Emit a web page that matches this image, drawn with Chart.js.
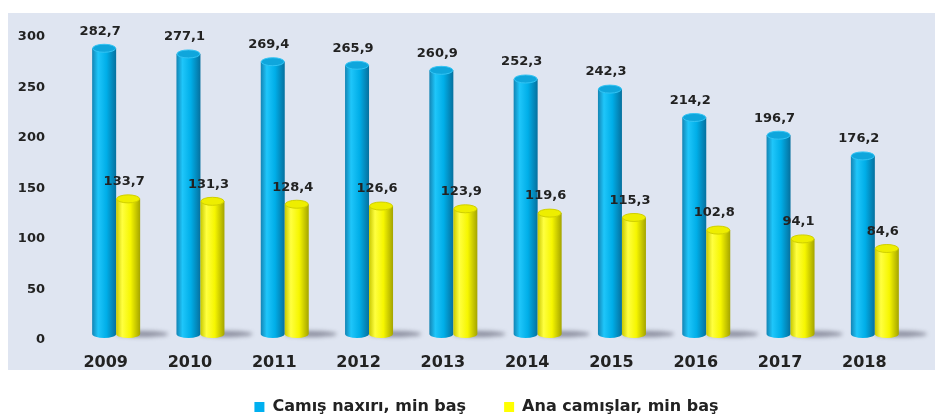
<!DOCTYPE html>
<html>
<head>
<meta charset="utf-8">
<script src="https://cdn.jsdelivr.net/npm/chart.js@4/dist/chart.umd.min.js"></script>
<style>
  body { margin: 0; background: #fff; }
  canvas { display: block; }
</style>
</head>
<body>
<canvas id="myChart" width="935" height="417"></canvas>
<script>
const years = ["2009", "2010", "2011", "2012", "2013", "2014", "2015", "2016", "2017", "2018"];
const herd = [282.7, 277.1, 269.4, 265.9, 260.9, 252.3, 242.3, 214.2, 196.7, 176.2];
const cows = [133.7, 131.3, 128.4, 126.6, 123.9, 119.6, 115.3, 102.8, 94.1, 84.6];
const seriesNames = ["Camış naxırı, min baş", "Ana camışlar, min baş"];
const yMin = 0;
const yMax = 300;
const yStep = 50;

const font = "'DejaVu Sans', Verdana, sans-serif";
const textColor = "#222";

// colours for the cylinder look
const looks = [
  { flat: "#00b0f0", edge: "#1384b4", light: "#1fc6fa", mid: "#00aee8", dark: "#06709e", cap: "#0fa6dc", rim: "#33c4f4" },
  { flat: "#ffff00", edge: "#c8c800", light: "#ffff40", mid: "#f6f600", dark: "#a4a400", cap: "#eeee00", rim: "#d0d000" },
];
const lift = 6; // 3d perspective shift

const fmt = (v) => v.toFixed(1).replace(".", ",");

const cylinder = (ctx, x, top, base, w, c) => {
  const l = x - w / 2, r = x + w / 2, ry = 4;
  top -= lift;
  base -= lift;
  const g = ctx.createLinearGradient(l, 0, r, 0);
  g.addColorStop(0, c.edge);
  g.addColorStop(0.25, c.light);
  g.addColorStop(0.6, c.mid);
  g.addColorStop(1, c.dark);
  ctx.fillStyle = g;
  ctx.beginPath();
  ctx.moveTo(l, top);
  ctx.lineTo(l, base);
  ctx.ellipse(x, base, w / 2, ry, 0, Math.PI, 0, true);
  ctx.lineTo(r, top);
  ctx.closePath();
  ctx.fill();
  ctx.beginPath();
  ctx.ellipse(x, top, w / 2 - 0.5, ry, 0, 0, Math.PI * 2);
  ctx.fillStyle = c.cap;
  ctx.fill();
  ctx.lineWidth = 1;
  ctx.strokeStyle = c.rim;
  ctx.stroke();
};

const panel = {
  id: "panel",
  beforeDraw(chart) {
    const ctx = chart.ctx;
    ctx.save();
    ctx.fillStyle = "#dfe5f1";
    ctx.fillRect(8, 13, chart.width - 8, 357);
    ctx.restore();
  },
};

// move the legend under the panel without changing the plot area
const legendSpot = {
  id: "legendSpot",
  afterLayout(chart) {
    const lg = chart.legend;
    const h = lg.bottom - lg.top;
    lg.top = 361;
    lg.bottom = lg.top + h;
    lg.left += 24;
    lg.right += 24;
  },
};

const cylinders = {
  id: "cylinders",
  beforeDatasetDraw() {
    return false;
  },
  beforeDatasetsDraw(chart) {
    const ctx = chart.ctx;
    const meta = chart.getDatasetMeta(1);
    ctx.save();
    ctx.filter = "blur(2px)";
    ctx.fillStyle = "rgba(60,60,80,0.5)";
    meta.data.forEach((el) => {
      const p = el.getProps(["x", "base", "width"], true);
      ctx.beginPath();
      ctx.ellipse(p.x + p.width / 2 + 2, p.base - lift, p.width / 2 + 14, 3, 0, 0, Math.PI * 2);
      ctx.fill();
    });
    ctx.restore();
  },
  afterDatasetsDraw(chart) {
    const ctx = chart.ctx;
    ctx.save();
    chart.data.datasets.forEach((ds, i) => {
      const meta = chart.getDatasetMeta(i);
      meta.data.forEach((el) => {
        const p = el.getProps(["x", "y", "base", "width"], true);
        cylinder(ctx, p.x, p.y, p.base, p.width, looks[i]);
      });
    });
    ctx.font = "bold 13px " + font;
    ctx.fillStyle = textColor;
    ctx.textAlign = "center";
    ctx.textBaseline = "middle";
    chart.data.datasets.forEach((ds, i) => {
      const meta = chart.getDatasetMeta(i);
      meta.data.forEach((el, j) => {
        const p = el.getProps(["x", "y"], true);
        ctx.fillText(fmt(ds.data[j]), p.x - 4, p.y - 23);
      });
    });
    ctx.restore();
  },
};

new Chart("myChart", {
  type: "bar",
  data: {
    labels: years,
    datasets: [
      { label: seriesNames[0], data: herd, backgroundColor: looks[0].flat, barThickness: 24 },
      { label: seriesNames[1], data: cows, backgroundColor: looks[1].flat, barThickness: 24 },
    ],
  },
  options: {
    responsive: false,
    animation: false,
    layout: { padding: { left: 8, right: 18, top: 34, bottom: -21 } },
    plugins: {
      tooltip: { enabled: false },
      legend: {
        position: "bottom",
        labels: {
          boxWidth: 10,
          boxHeight: 10,
          padding: 38,
          color: textColor,
          font: { family: font, size: 16, weight: "bold" },
        },
      },
    },
    scales: {
      x: {
        grid: { display: false, drawTicks: false },
        border: { display: false },
        ticks: {
          color: textColor,
          font: { family: font, size: 16, weight: "bold" },
          padding: 13,
          labelOffset: -10.5,
        },
        afterFit: (s) => { s.height = 34; },
      },
      y: {
        min: yMin,
        max: yMax,
        grid: { display: false, drawTicks: false },
        border: { display: false },
        ticks: {
          stepSize: yStep,
          color: textColor,
          padding: 29,
          font: { family: font, size: 13, weight: "bold" },
        },
        afterFit: (s) => { s.width = 66; },
      },
    },
  },
  plugins: [panel, legendSpot, cylinders],
});
</script>
</body>
</html>
